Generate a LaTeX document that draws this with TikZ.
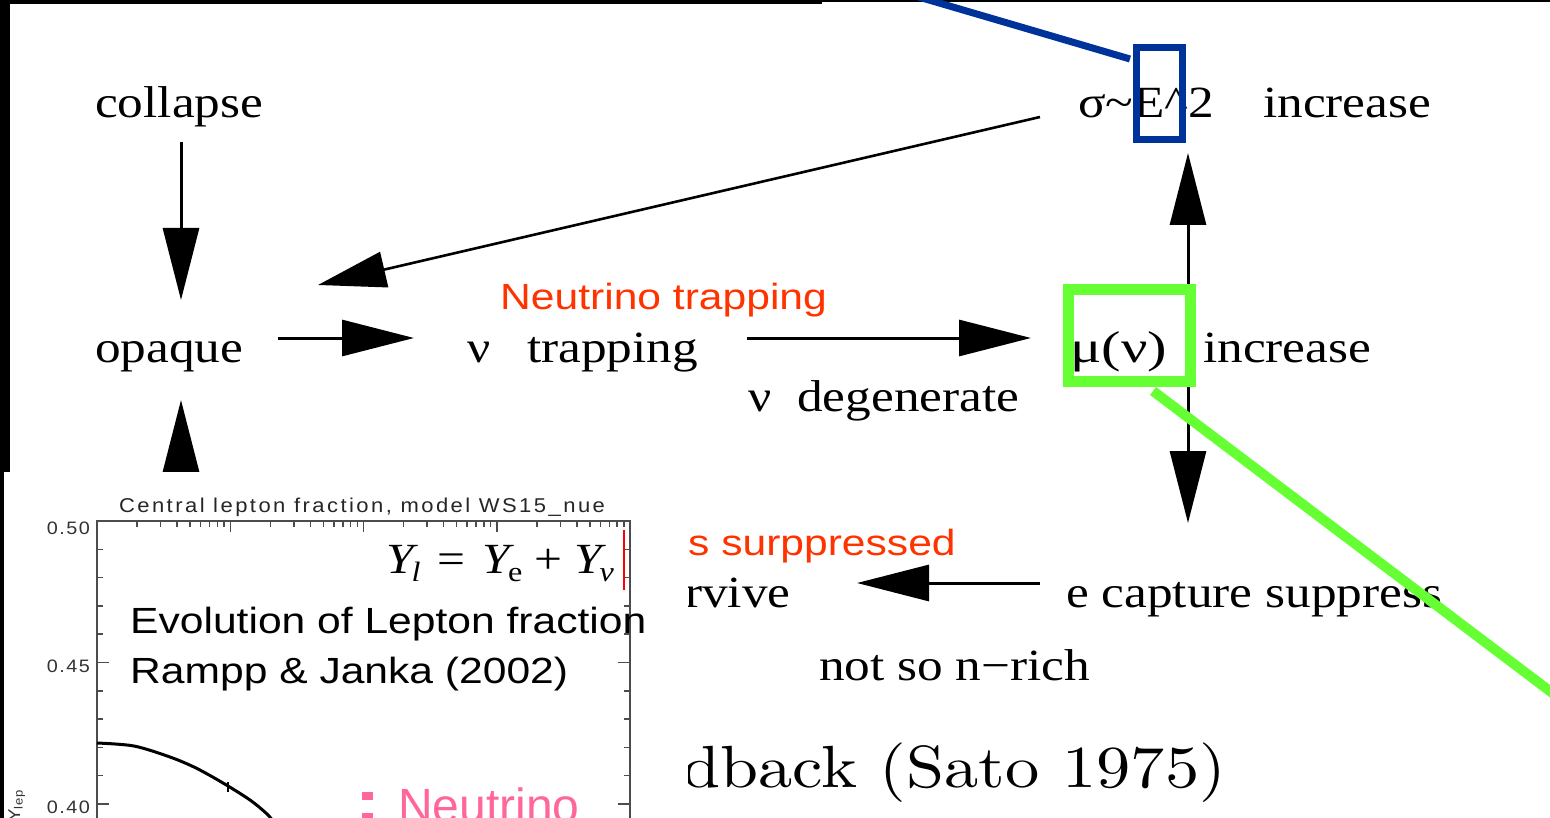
\documentclass[tikz,border=0pt]{standalone}
\usepackage{fontspec}
\usepackage{graphicx}
\usetikzlibrary{arrows.meta,calc}
\newfontfamily\serifw[FakeStretch=1.15]{Liberation Serif}
\newfontfamily\sansw[FakeStretch=1.17]{Liberation Sans}
\newfontfamily\sansp{Liberation Sans}
\newfontfamily\plotf[FakeStretch=1.1,LetterSpace=12.3]{Liberation Sans}
\newfontfamily\plotn[FakeStretch=1.1,LetterSpace=8]{Liberation Sans}
\newfontfamily\cmw[FakeStretch=1.15]{lmroman10-regular.otf}
\definecolor{redt}{RGB}{255,51,0}
\definecolor{pinkt}{RGB}{255,102,153}
\definecolor{boxblue}{RGB}{0,51,153}
\definecolor{boxgreen}{RGB}{102,255,51}
\tikzset{
  txt/.style={inner sep=0pt, anchor=base west, font=\serifw\fontsize{44.6}{50}\selectfont},
  cmtxt/.style={inner sep=0pt, anchor=base west, font=\cmw\fontsize{59.5}{62}\selectfont},
  redlbl/.style={inner sep=0pt, anchor=base west, text=redt, font=\sansw\fontsize{36.4}{40}\selectfont},
  blacklbl/.style={inner sep=0pt, anchor=base west, font=\sansw\fontsize{36.4}{40}\selectfont},
  arr/.style={line width=3pt, -{Triangle[length=72pt,width=36pt]}},
  darr/.style={line width=3pt, {Triangle[length=72pt,width=36pt]}-{Triangle[length=72pt,width=36pt]}},
  plotax/.style={draw=black!70, line width=1.5pt},
  axlbl/.style={inner sep=0pt, anchor=east, text=black!80, font=\plotn\fontsize{18}{20}\selectfont},
}
\begin{document}
\begin{tikzpicture}[x=1pt,y=-1pt]
\useasboundingbox (0,0) rectangle (1550,818);
\fill[white] (0,0) rectangle (1550,818);

% ---- flow chart texts ----
\node[txt] (collapse) at (95,118) {collapse};
\node[txt] (sigma) at (1078,118) {σ\textasciitilde E\textasciicircum 2};
\node[txt] (inc1) at (1263,118) {increase};
\node[txt] (opaque) at (95,362) {opaque};
\node[txt] (nu1) at (467,362) {ν};
\node[txt] (trapping) at (527,362) {trapping};
\node[txt] (mu) at (1070,362) {\scalebox{1.14}[1]{μ(ν)}};
\node[txt] (inc2) at (1203,362) {increase};
\node[txt] (nu2) at (748,411) {ν};
\node[txt] (degen) at (797,411) {degenerate};
\node[txt] (ecap) at (1066,607) {e capture suppress};
\node[txt] (survive) at (685,607) {rvive};
\node[txt] (nrich) at (819,680) {not so n−rich};
\node[cmtxt] (sato) at (682,787) {dback (Sato 1975)};
\node[redlbl] (ntrap) at (500,310) {Neutrino trapping};
\node[redlbl] (supp) at (688,555) {s surppressed};

% ---- arrow end points ----
\coordinate (collapse-out) at (181,142);
\coordinate (opaque-top) at (181,300);
\coordinate (survive-out) at (181,620);
\coordinate (opaque-bot) at (181,400);
\coordinate (opaque-out) at (278,338);
\coordinate (trap-in) at (414,338);
\coordinate (trap-out) at (747,338);
\coordinate (mu-in) at (1031,338);
\coordinate (sigma-out) at (1040,117);
\coordinate (opaque-diag) at (318,285);
\coordinate (sigma-in) at (1188,153);
\coordinate (ecap-in) at (1188,523);
\coordinate (ecap-out) at (1040,583);
\coordinate (survive-in) at (857,583);

\draw[arr] (collapse-out) -- (opaque-top);
\draw[arr] (survive-out) -- (opaque-bot);
\draw[arr] (opaque-out) -- (trap-in);
\draw[arr] (trap-out) -- (mu-in);
\draw[line width=2.6pt, -{Triangle[length=68pt,width=36pt]}] (sigma-out) -- (opaque-diag);
\draw[darr] (sigma-in) -- (ecap-in);
\draw[arr] (ecap-out) -- (survive-in);

% ---- embedded plot ----
\fill[white] (4,472) rectangle (688,830);
\fill[black] (0,0) rectangle (10,472);
\fill[black] (0,472) rectangle (4,818);
\fill[black] (0,0) rectangle (822,4.5);
\fill[black] (822,0) rectangle (1550,2.5);

\node[inner sep=0pt, anchor=base, font=\plotf\fontsize{20}{22}\selectfont, text=black!85] (ptitle) at (362,512) {Central lepton fraction, model WS15\_nue};
\draw[plotax] (97,830) -- (97,521) -- (630,521) -- (630,830);
\foreach \k in {1,...,11}{
  \pgfmathsetmacro\yy{521+28.3*\k}
  \pgfmathsetmacro\tl{ifthenelse(mod(\k,5)==0,12,6)}
  \draw[plotax] (97,\yy) -- ++(\tl,0);
  \draw[plotax] (630,\yy) -- ++(-\tl,0);
}
\foreach \d in {0,...,3}{
  \foreach \m in {2,...,9}{
    \pgfmathsetmacro\xx{97+133.25*\d+133.25*log10(\m)}
    \draw[plotax] (\xx,521) -- ++(0,6);
  }
  \pgfmathsetmacro\xm{97+133.25*(\d+1)}
  \draw[plotax] (\xm,521) -- ++(0,11);
}
\node[axlbl] (l50) at (90,528.5) {0.50};
\node[axlbl] (l45) at (90,666) {0.45};
\node[axlbl] (l40) at (90,807) {0.40};
\node[inner sep=0pt, anchor=base west, rotate=90, font=\plotn\fontsize{17}{18}\selectfont, text=black!80] (ylab) at (20,822) {Y\textsubscript{lep}};

\draw[line width=3pt, line join=round] plot[smooth] coordinates {(97,743) (134,746) (170,757) (196,768) (223,783) (250,800) (268,815) (280,830)};
\draw[line width=1.5pt] (228,782) -- (228,792);

\node[inner sep=0pt, anchor=base west, font=\serifw\fontsize{43}{45}\selectfont] (formula) at (386,573)
  {\itshape Y\kern-2pt\raisebox{-8pt}{\fontsize{28}{28}\selectfont l}\hspace{17pt}{\upshape =}\hspace{17pt}Y\kern-2pt\raisebox{-8pt}{\fontsize{28}{28}\selectfont\upshape e}\hspace{12pt}{\upshape +}\hspace{12pt}Y\kern-2pt\raisebox{-8pt}{\fontsize{28}{28}\selectfont ν}};
\draw[red, line width=1.2pt] (624,530) -- (624,590);

\node[blacklbl] (evo) at (130,633) {Evolution of Lepton fraction};
\node[blacklbl] (rj) at (130,683) {Rampp \& Janka (2002)};
\fill[pinkt] (362,792) rectangle (373,800);
\fill[pinkt] (362,813) rectangle (373,821);
\node[inner sep=0pt, anchor=base west, text=pinkt, font=\sansp\fontsize{48}{50}\selectfont] (neut) at (398,822) {Neutrino};

% ---- highlight boxes ----
\node[draw=boxblue, line width=7pt, minimum width=46pt, minimum height=92pt, inner sep=0pt] (ebox) at (1159.5,93.5) {};
\coordinate (blue-end) at (900,-8.5);
\draw[boxblue, line width=7pt] ($(ebox.north west)+(-3,15)$) -- (blue-end);
\node[draw=boxgreen, line width=11pt, minimum width=122pt, minimum height=92pt, inner sep=0pt] (mubox) at (1129.5,335.5) {};
\coordinate (green-end) at (1600,729);
\draw[boxgreen, line width=10pt] ($(mubox.south west)+(90,4)$) -- (green-end);
\end{tikzpicture}
\end{document}
